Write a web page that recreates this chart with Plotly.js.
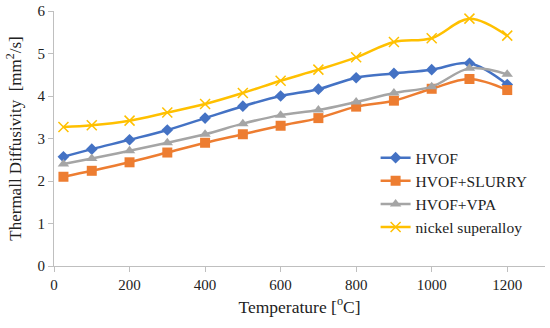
<!DOCTYPE html>
<html><head><meta charset="utf-8">
<script src="https://cdn.plot.ly/plotly-3.0.1.min.js"></script>
<style>body{margin:0;padding:0;background:#fff}#c{width:550px;height:328px}</style>
</head><body><div id="c"></div>
<script>
const temperature = [25, 100, 200, 300, 400, 500, 600, 700, 800, 900, 1000, 1100, 1200];
const hvof = [2.57, 2.75, 2.97, 3.2, 3.48, 3.76, 4.0, 4.16, 4.43, 4.53, 4.62, 4.77, 4.27];
const hvofSlurry = [2.1, 2.24, 2.44, 2.67, 2.9, 3.1, 3.3, 3.48, 3.75, 3.89, 4.17, 4.4, 4.14];
const hvofVpa = [2.4, 2.53, 2.71, 2.9, 3.1, 3.35, 3.55, 3.67, 3.86, 4.07, 4.22, 4.65, 4.51];
const nickel = [3.27, 3.31, 3.42, 3.61, 3.81, 4.07, 4.36, 4.62, 4.91, 5.27, 5.36, 5.82, 5.42];
const seriesNames = ["HVOF", "HVOF+SLURRY", "HVOF+VPA", "nickel superalloy"];

const font = "Liberation Serif, DejaVu Serif, serif";
const traces = [
  {x: temperature, y: hvof, name: seriesNames[0], mode: "lines+markers",
   line: {color: "#4472C4", width: 2.5, shape: "spline"},
   marker: {symbol: "diamond", size: 9, color: "#4472C4"}},
  {x: temperature, y: hvofSlurry, name: seriesNames[1], mode: "lines+markers",
   line: {color: "#ED7D31", width: 2.5, shape: "spline"},
   marker: {symbol: "square", size: 10, color: "#ED7D31"}},
  {x: temperature, y: hvofVpa, name: seriesNames[2], mode: "lines+markers",
   line: {color: "#A5A5A5", width: 2.5, shape: "spline"},
   marker: {symbol: "triangle-up", size: 10, color: "#A5A5A5"}},
  {x: temperature, y: nickel, name: seriesNames[3], mode: "lines+markers",
   line: {color: "#FFC000", width: 2.5, shape: "spline"},
   marker: {symbol: "x-thin-open", size: 10, color: "#FFC000", line: {color: "#FFC000", width: 1.5}}}
];

const layout = {
  width: 550, height: 328,
  margin: {l: 54, r: 5, t: 11, b: 62},
  paper_bgcolor: "#fff", plot_bgcolor: "#fff",
  font: {family: font, size: 15, color: "#222"},
  showlegend: true,
  legend: {x: 0.655, y: 0.49, xanchor: "left", yanchor: "top", bgcolor: "rgba(0,0,0,0)",
           font: {family: font, size: 15.5, color: "#222"}, tracegroupgap: 0, itemwidth: 30},
  xaxis: {range: [0, 1300], tickvals: [0, 200, 400, 600, 800, 1000, 1200],
          showgrid: false, zeroline: false, showline: true, linecolor: "#BFBFBF", linewidth: 1,
          ticks: "outside", ticklen: 5, tickcolor: "#BFBFBF",
          tickfont: {family: font, size: 15, color: "#222"},
          title: {text: "Temperature [<sup>o</sup>C]", font: {family: font, size: 17.5, color: "#222"}, standoff: 8}},
  yaxis: {range: [0, 6], tickvals: [0, 1, 2, 3, 4, 5, 6],
          showgrid: false, zeroline: false, showline: true, linecolor: "#BFBFBF", linewidth: 1,
          ticks: "outside", ticklen: 5, tickcolor: "#BFBFBF",
          tickfont: {family: font, size: 15, color: "#222"},
          title: {text: "Thermall Diffusivity  [mm<sup>2</sup>/s]", font: {family: font, size: 17, color: "#222"}, standoff: 11}}
};
Plotly.newPlot("c", traces, layout, {displayModeBar: false, staticPlot: true});
</script></body></html>
